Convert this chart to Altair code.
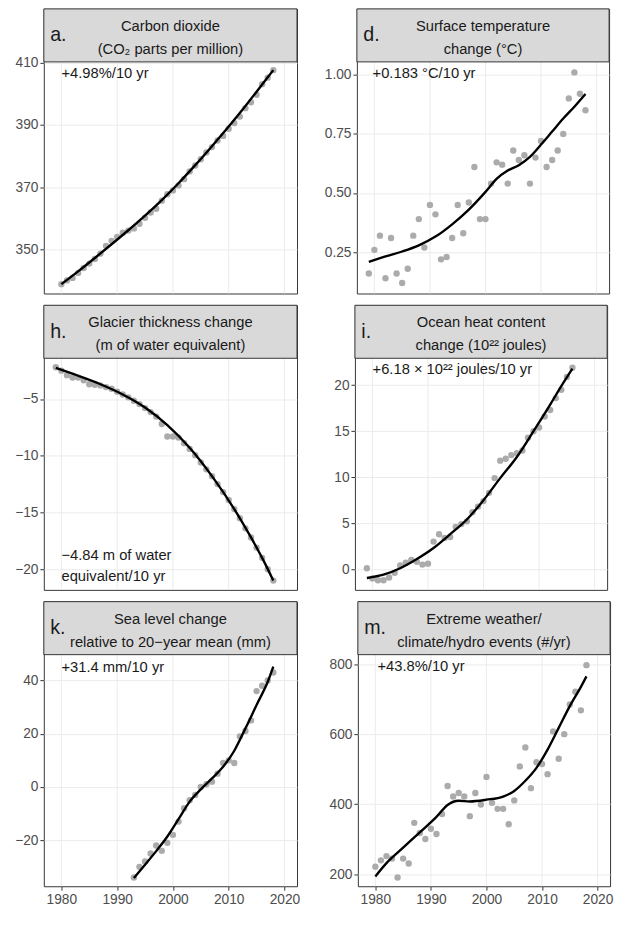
import altair as alt
import pandas as pd

FONT = "Liberation Sans"
XDOM = [1976.85, 2022.25]

# ---------------- data ----------------
co2_years = list(range(1980, 2019))
co2_vals = [338.9, 340.1, 340.9, 342.5, 344.1, 345.5, 347.0, 348.7, 351.2, 352.8,
            354.1, 355.4, 356.1, 356.8, 358.3, 360.2, 361.9, 363.1, 365.7, 367.8,
            369.0, 370.6, 372.6, 375.1, 377.0, 379.0, 381.2, 382.9, 385.0, 386.5,
            388.8, 390.6, 392.7, 395.4, 397.3, 399.7, 403.1, 405.2, 407.6]
co2_fit_years = [1980, 1983, 1986, 1989, 1992, 1995, 1998, 2001, 2004, 2007, 2010, 2013, 2016, 2018]
co2_fit_vals = [338.9, 343.0, 347.3, 351.7, 356.2, 360.9, 365.9, 371.3, 377.1, 383.2, 389.5, 396.1, 403.0, 407.6]

temp_years = list(range(1979, 2019))
temp_vals = [0.16, 0.26, 0.32, 0.14, 0.31, 0.16, 0.12, 0.18, 0.32, 0.39,
             0.27, 0.45, 0.41, 0.22, 0.23, 0.31, 0.45, 0.33, 0.46, 0.61,
             0.39, 0.39, 0.54, 0.63, 0.62, 0.54, 0.68, 0.64, 0.66, 0.54,
             0.65, 0.72, 0.61, 0.64, 0.68, 0.75, 0.90, 1.01, 0.92, 0.85]
temp_fit_years = [1979, 1982, 1985, 1988, 1991, 1994, 1997, 2000, 2002, 2004, 2006, 2008, 2010, 2012, 2014, 2016, 2018]
temp_fit_vals = [0.209, 0.232, 0.253, 0.279, 0.316, 0.368, 0.43, 0.505, 0.56, 0.595, 0.618, 0.653, 0.705, 0.76, 0.815, 0.865, 0.919]

glac_years = list(range(1979, 2019))
glac_vals = [-2.2, -2.5, -2.9, -3.1, -3.1, -3.35, -3.7, -3.75, -3.8, -3.95,
             -4.1, -4.35, -4.6, -4.85, -5.15, -5.45, -5.8, -6.15, -6.55, -7.2,
             -8.3, -8.3, -8.4, -8.9, -9.4, -9.95, -10.6, -11.2, -11.8, -12.5,
             -13.2, -13.9, -14.7, -15.5, -16.4, -17.2, -18.1, -19.0, -20.0, -21.0]
glac_fit_years = [1979, 1983, 1987, 1991, 1995, 1999, 2003, 2007, 2011, 2014, 2016, 2018]
glac_fit_vals = [-2.26, -2.95, -3.7, -4.6, -5.75, -7.3, -9.3, -11.8, -14.7, -17.2, -19.0, -21.0]

ohc_years = list(range(1979, 2017))
ohc_vals = [0.1, -1.0, -1.2, -1.2, -0.9, -0.4, 0.4, 0.7, 1.0, 0.8,
            0.5, 0.6, 3.0, 3.8, 3.4, 3.5, 4.6, 4.9, 5.2, 6.2,
            6.8, 7.4, 8.3, 9.9, 11.8, 12.0, 12.4, 12.6, 12.9, 14.3,
            15.0, 15.4, 16.6, 17.3, 18.6, 19.5, 20.9, 21.9]
ohc_fit_years = [1979, 1982, 1985, 1988, 1991, 1994, 1997, 2000, 2003, 2006, 2009, 2012, 2014, 2016]
ohc_fit_vals = [-0.96, -0.6, 0.1, 1.1, 2.3, 3.8, 5.4, 7.5, 9.9, 12.2, 15.0, 17.9, 19.9, 21.8]

sea_years = list(range(1993, 2019))
sea_vals = [-34, -30, -28, -25, -22, -24, -21, -18, -13, -8,
            -5, -3, 0, 1, 2, 5, 9, 10, 9, 19,
            21, 25, 36, 38, 40, 43]
sea_fit_years = [1993, 1995, 1997, 1999, 2001, 2003, 2005, 2007, 2009, 2011, 2013, 2015, 2017, 2018]
sea_fit_vals = [-34.2, -29.2, -24.1, -18.6, -12.1, -5.5, -0.9, 3.2, 7.6, 13.6, 22.0, 30.8, 39.5, 45.2]

ext_years = list(range(1980, 2019))
ext_vals = [222, 240, 252, 245, 191, 245, 231, 347, 318, 301,
            330, 315, 372, 452, 422, 432, 422, 366, 432, 399,
            478, 404, 387, 387, 343, 411, 508, 562, 446, 520,
            515, 486, 608, 530, 600, 685, 721, 668, 797]
ext_fit_years = [1980, 1982, 1985, 1988, 1991, 1993, 1995, 1997, 2000, 2003, 2005, 2007, 2009, 2011, 2013, 2015, 2017, 2018]
ext_fit_vals = [194, 232, 276, 320, 364, 398, 410, 408, 413, 422, 438, 467, 504, 556, 618, 680, 735, 765]

x_ticks = [1980, 1990, 2000, 2010, 2020]

# ---------------- helpers ----------------
HDR_H = 54
PLOT_H = 236
TOTAL_H = HDR_H + PLOT_H


def panel(letter, line1, line2, years, vals, fit_years, fit_vals, ydom, yticks, yfmt,
          ann, ann_x, ann_y, w, show_x):
    pts = pd.DataFrame({"year": years, "value": vals})
    fit = pd.DataFrame({"year": fit_years, "value": fit_vals})
    if show_x:
        xaxis = alt.Axis(values=x_ticks, format="d", title=None, grid=False, ticks=True,
                         labels=True, domain=False, labelPadding=3, tickSize=4)
    else:
        xaxis = None
    xscale = alt.Scale(domain=XDOM, nice=False, zero=False)
    yenc = alt.Y("value:Q",
                 scale=alt.Scale(domain=ydom, range=[TOTAL_H, HDR_H], nice=False, zero=False),
                 axis=alt.Axis(values=yticks, format=yfmt, title=None, grid=True, domain=False,
                               minExtent=31, maxExtent=31))
    vgrid = alt.Chart(pd.DataFrame({"year": x_ticks})).mark_rule(color="#ebebeb", strokeWidth=1).encode(
        x=alt.X("year:Q", scale=xscale, axis=xaxis), y=alt.value(HDR_H), y2=alt.value(TOTAL_H))
    points = alt.Chart(pts).mark_circle(size=42, color="#a6a6a6", opacity=0.95).encode(
        x=alt.X("year:Q"), y=yenc)
    line = alt.Chart(fit).mark_line(color="#000000", strokeWidth=2.4, interpolate="monotone").encode(
        x=alt.X("year:Q"), y=alt.Y("value:Q"))
    text = alt.Chart(pd.DataFrame({"t": [ann]})).mark_text(
        align="left", baseline="alphabetic", fontSize=15, font=FONT, color="#1a1a1a",
        lineBreak="\n", lineHeight=20.5,
    ).encode(x=alt.value(ann_x), y=alt.value(HDR_H + ann_y), text="t:N")

    hdr = alt.Chart(pd.DataFrame({"letter": [letter], "l1": [line1], "l2": [line2]}))
    strip = hdr.mark_rect(fill="#d9d9d9", stroke="#333333", strokeWidth=1).encode(
        x=alt.value(0), x2=alt.value(w), y=alt.value(0), y2=alt.value(HDR_H))
    t_letter = hdr.mark_text(align="left", baseline="alphabetic", fontSize=20, font=FONT,
                             color="#1a1a1a").encode(x=alt.value(6.5), y=alt.value(33), text="letter:N")
    t1 = hdr.mark_text(align="center", baseline="alphabetic", fontSize=15, font=FONT,
                       color="#1a1a1a").encode(x=alt.value(w / 2), y=alt.value(22.5), text="l1:N")
    t2 = hdr.mark_text(align="center", baseline="alphabetic", fontSize=15, font=FONT,
                       color="#1a1a1a").encode(x=alt.value(w / 2), y=alt.value(46), text="l2:N")
    return alt.layer(vgrid, points, line, text, strip, t_letter, t1, t2).properties(width=w, height=TOTAL_H)


WL = 258
WR = 257

pa = panel("a.", "Carbon dioxide", "(CO\u2082 parts per million)",
           co2_years, co2_vals, co2_fit_years, co2_fit_vals, [335.9, 410.25], [350, 370, 390, 410], "d",
           "+4.98%/10 yr", 18, 16.5, WL, False)
pd_ = panel("d.", "Surface temperature", "change (\u00b0C)",
            temp_years, temp_vals, temp_fit_years, temp_fit_vals, [0.0755, 1.0545], [0.25, 0.5, 0.75, 1.0],
            ".2f", "+0.183 \u00b0C/10 yr", 16, 16.5, WR, False)
ph = panel("h.", "Glacier thickness change", "(m of water equivalent)",
           glac_years, glac_vals, glac_fit_years, glac_fit_vals, [-21.82, -1.41], [-20, -15, -10, -5], "d",
           "\u22124.84 m of water\nequivalent/10 yr", 18, 206, WL, False)
pi = panel("i.", "Ocean heat content", "change (10\u00b2\u00b2 joules)",
           ohc_years, ohc_vals, ohc_fit_years, ohc_fit_vals, [-2.25, 22.93], [0, 5, 10, 15, 20], "d",
           "+6.18 \u00d7 10\u00b2\u00b2 joules/10 yr", 18, 16.5, WR, False)
pk = panel("k.", "Sea level change", "relative to 20\u2212year mean (mm)",
           sea_years, sea_vals, sea_fit_years, sea_fit_vals, [-37.3, 49.7], [-20, 0, 20, 40], "d",
           "+31.4 mm/10 yr", 18, 17.5, WL, True)
pm = panel("m.", "Extreme weather/", "climate/hydro events (#/yr)",
           ext_years, ext_vals, ext_fit_years, ext_fit_vals, [166, 827], [200, 400, 600, 800], "d",
           "+43.8%/10 yr", 20, 16.5, WR, True)

chart = alt.vconcat(
    alt.hconcat(pa, pd_, spacing=26),
    alt.hconcat(ph, pi, spacing=26),
    alt.hconcat(pk, pm, spacing=26),
    spacing=10,
).properties(
    padding={"left": 4.5, "top": -8.7, "right": 0, "bottom": 0},
    background="white",
).configure_view(
    stroke="#333333", strokeWidth=1,
).configure_axis(
    gridColor="#ebebeb", gridWidth=1,
    tickColor="#333333", tickSize=4, tickWidth=1,
    labelColor="#4d4d4d", labelFont=FONT, labelFontSize=14, labelPadding=2,
)

chart.save("out.html", embed_options={"renderer": "svg", "actions": False})
